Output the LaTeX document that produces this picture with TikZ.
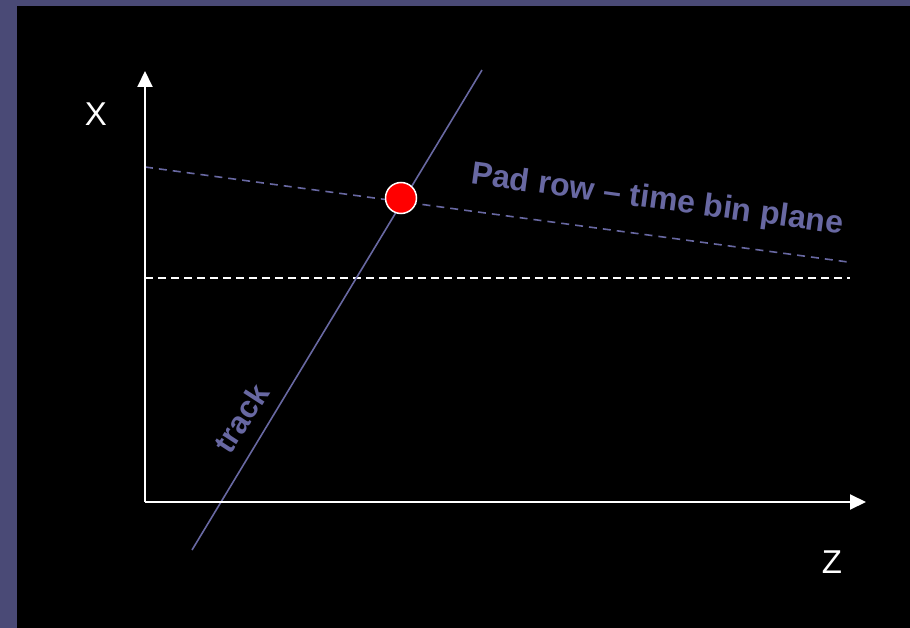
\documentclass[tikz,border=0pt]{standalone}
\usepackage{fontspec}
\setmainfont{Liberation Sans}
\usetikzlibrary{arrows.meta}
\definecolor{slidebg}{RGB}{74,74,118}
\definecolor{trackcol}{RGB}{104,104,162}
\tikzset{
  axis/.style={draw=white, line width=2pt, -{Triangle[length=16pt,width=15pt]}},
  trackline/.style={draw=trackcol, line width=1.6pt},
  planeline/.style={draw=trackcol, line width=1.6pt, dash pattern=on 8pt off 6pt},
  refline/.style={draw=white, line width=1.6pt, dash pattern=on 8pt off 5pt},
  axislabel/.style={text=white, font=\fontsize{33}{40}\selectfont, inner sep=0pt},
  purplelabel/.style={text=trackcol, font=\bfseries\fontsize{32}{38}\selectfont, inner sep=0pt},
  hitpoint/.style={circle, fill=red, draw=white, line width=1.5pt, minimum size=31pt, inner sep=0pt}
}
\begin{document}
\begin{tikzpicture}[x=1pt,y=-1pt]
\useasboundingbox (0,0) rectangle (910,628);
\fill[slidebg] (0,0) rectangle (910,628);
\fill[black] (17,6) rectangle (910,628);
% coordinates
\coordinate (O) at (145,502);
\coordinate (xtip) at (145,71);
\coordinate (ztip) at (866,502);
\coordinate (trA) at (192,550);
\coordinate (trB) at (482,70);
\coordinate (plA) at (145,167);
\coordinate (plB) at (848,262);
\coordinate (refA) at (145,278);
\coordinate (refB) at (850,278);
% lines
\draw[refline] (refA) -- (refB);
\draw[planeline] (plA) -- (plB);
\draw[trackline] (trA) -- (trB);
\draw[axis] (O) -- (xtip);
\draw[axis] (O) -- (ztip);
% hit
\node[hitpoint] (hit) at (401,198) {};
% labels
\node[axislabel] (xlab) at (96,114) {X};
\node[axislabel] (zlab) at (832,562) {Z};
\node[purplelabel, rotate=-7.7, anchor=base] (padlab) at (656,209) {Pad row – time bin plane};
\node[purplelabel, font=\bfseries\fontsize{31}{36}\selectfont, rotate=57] (tracklab) at (241,418) {track};
\end{tikzpicture}
\end{document}
